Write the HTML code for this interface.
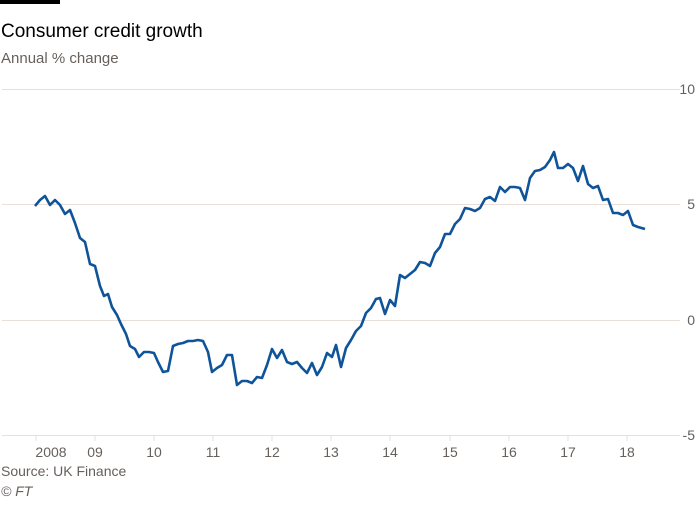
<!DOCTYPE html>
<html><head><meta charset="utf-8"><style>
body{margin:0;background:#fff;width:700px;height:500px;overflow:hidden;font-family:"Liberation Sans",sans-serif}
</style></head><body>
<svg width="700" height="500" xmlns="http://www.w3.org/2000/svg" font-family="Liberation Sans, sans-serif">
<rect x="0" y="0" width="60" height="4" fill="#000"/>
<text x="1" y="37" font-size="19" fill="#000">Consumer credit growth</text>
<text x="1" y="63" font-size="15" fill="#66605c">Annual % change</text>
<g stroke="#e9dfd6" stroke-width="1">
<line x1="2" y1="89.5" x2="680" y2="89.5"/>
<line x1="2" y1="204.5" x2="680" y2="204.5"/>
<line x1="2" y1="320.5" x2="680" y2="320.5"/>
<line x1="2" y1="435.5" x2="680" y2="435.5"/>
</g>
<g stroke="#e9dfd6" stroke-width="1">
<line x1="36" y1="436" x2="36" y2="441"/><line x1="95" y1="436" x2="95" y2="441"/><line x1="154" y1="436" x2="154" y2="441"/><line x1="213" y1="436" x2="213" y2="441"/><line x1="272" y1="436" x2="272" y2="441"/><line x1="331" y1="436" x2="331" y2="441"/><line x1="390" y1="436" x2="390" y2="441"/><line x1="450" y1="436" x2="450" y2="441"/><line x1="509" y1="436" x2="509" y2="441"/><line x1="568" y1="436" x2="568" y2="441"/><line x1="627" y1="436" x2="627" y2="441"/>
</g>
<g font-size="14" fill="#66605c" text-anchor="middle">
<text x="51" y="457">2008</text><text x="95" y="457">09</text><text x="154" y="457">10</text><text x="213" y="457">11</text><text x="272" y="457">12</text><text x="331" y="457">13</text><text x="390" y="457">14</text><text x="450" y="457">15</text><text x="509" y="457">16</text><text x="568" y="457">17</text><text x="627" y="457">18</text>
</g>
<g font-size="14" fill="#66605c" text-anchor="end">
<text x="695" y="94">10</text><text x="695" y="209">5</text><text x="695" y="325">0</text><text x="695" y="440">-5</text>
</g>
<polyline fill="none" stroke="#0f5499" stroke-width="2.6" stroke-linejoin="round" points="35,206 40,200 45,196 50,205 55,200 60,205 65,214 70,210 75,223 80,238 85,242 90,264 95,266 100,286 104,296 108,294 112,307 117,315 121,324 126,334 130,346 135,349 139,357 144,352 149,352 154,353 158,362 163,372 168,371 173,346 178,344 183,343 188,341 193,341 198,340 203,341 208,352 212,372 217,368 222,365 227,355 232,355 237,385 242,381 247,381 252,383 257,377 262,378 267,365 272,349 277,358 282,350 287,362 292,364 297,362 302,368 307,373 312,363 317,375 322,367 327,353 332,357 336,345 341,367 346,348 351,340 356,331 361,326 366,313 371,308 376,299 380,298 385,314 390,300 395,306 400,275 405,278 410,274 415,270 420,262 425,263 430,266 435,253 440,247 445,234 450,234 455,224 460,219 465,208 470,209 475,211 480,208 485,199 490,197 495,201 500,187 505,192 510,187 515,187 520,188 525,200 530,178 535,171 540,170 545,167 550,160 554,152 558,168 563,168 568,164 573,168 578,181 583,166 588,184 593,188 598,186 603,200 608,199 613,213 618,213 623,215 628,211 633,225 638,227 645,229"/>
<text x="1" y="476" font-size="14" fill="#66605c">Source: UK Finance</text>
<text x="1" y="496" font-size="14" fill="#66605c" font-style="italic">© FT</text>
</svg>
</body></html>
